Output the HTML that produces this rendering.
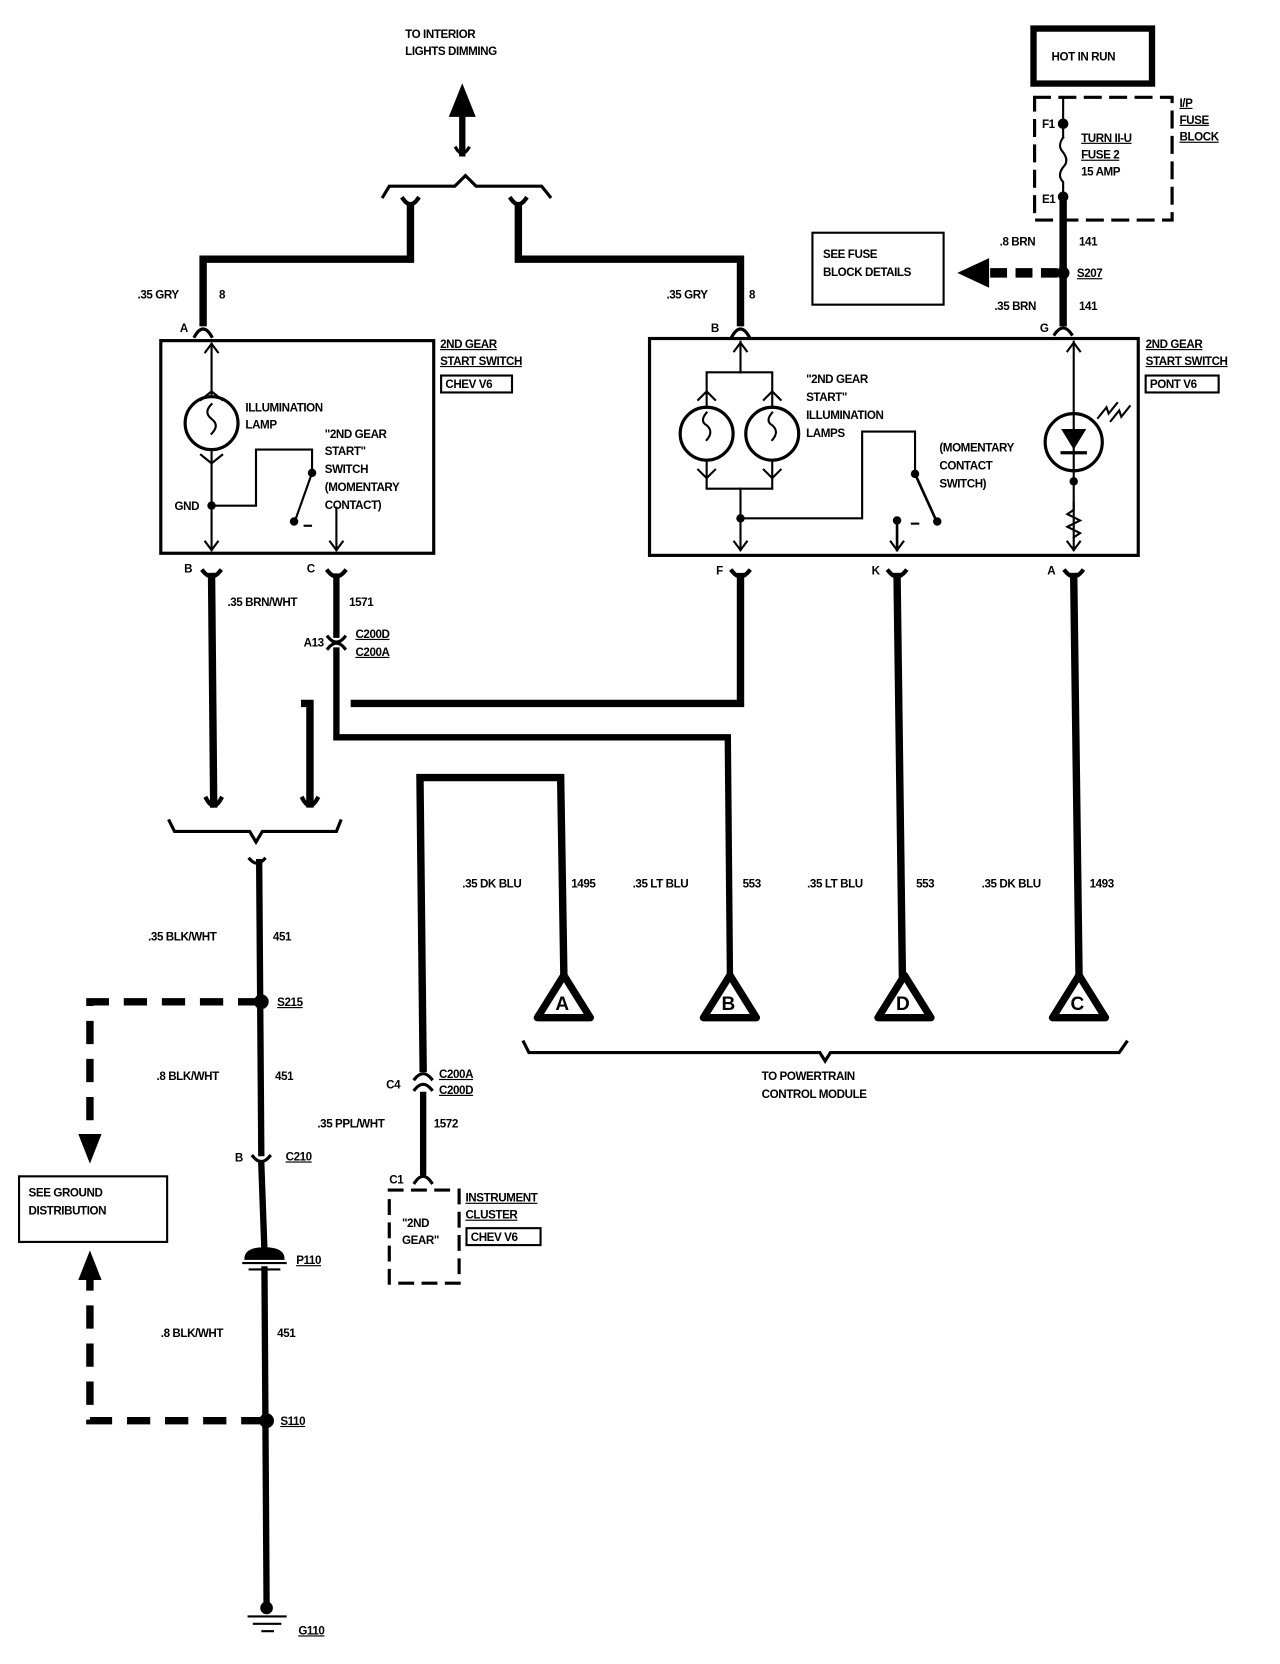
<!DOCTYPE html>
<html><head><meta charset="utf-8"><style>
html,body{margin:0;padding:0;background:#fff;}
svg{display:block;}
text{font-family:"Liberation Sans",sans-serif;font-weight:bold;font-size:11px;fill:#000;letter-spacing:-0.4px;}
</style></head><body>
<svg width="1280" height="1664" viewBox="0 0 1210 1573" preserveAspectRatio="none" xmlns="http://www.w3.org/2000/svg">
<g fill="none" stroke="#000" stroke-linecap="square">
<!-- top arrow -->
<polygon points="437,80 425,110 449,110" fill="#000"/>
<line x1="437" y1="105" x2="437" y2="145" stroke-width="6"/>
<path d="M431,140 Q437,150 443,140" stroke-width="3"/>
<!-- top bracket -->
<path d="M362,186 L368,176 L430,176 L440,166 L450,176 L512,176 L520,186" stroke-width="3"/>
<!-- top connectors -->
<path d="M381,188 Q388,198 395,188 M483,188 Q490,198 497,188" stroke-width="4"/>
<!-- gray wires -->
<polyline points="388,195 388,245 192,245 192,305" stroke-width="7"/>
<polyline points="490,195 490,245 700,245 700,305" stroke-width="7"/>
<path d="M184,318 Q192,304 200,318 M692,318 Q700,304 708,318" stroke-width="3"/>
<!-- box 1 -->
<rect x="152" y="322" width="258" height="201" stroke-width="3"/>
<line x1="200" y1="325" x2="200" y2="520" stroke-width="2"/>
<path d="M194,333 L200,325 L206,333 M194,512 L200,520 L206,512" stroke-width="2"/>
<circle cx="200" cy="400" r="25" fill="#fff" stroke-width="3"/>
<path d="M190,378 L200,370 L210,378 M190,430 L200,438 L210,430 M200,382 q-8,8 0,14 q8,6 0,14" stroke-width="2"/>
<polyline points="200,478 242,478 242,425 295,425 295,447" stroke-width="2"/>
<line x1="295" y1="447" x2="279" y2="492" stroke-width="2"/>
<line x1="318" y1="480" x2="318" y2="520" stroke-width="2"/>
<path d="M312,512 L318,520 L324,512" stroke-width="2"/>
<line x1="288" y1="497" x2="294" y2="497" stroke-width="2"/>
<!-- box 2 -->
<rect x="614" y="320" width="462" height="205" stroke-width="3"/>
<line x1="700" y1="323" x2="700" y2="352" stroke-width="2"/>
<path d="M694,332 L700,324 L706,332" stroke-width="2"/>
<polyline points="668,385 668,352 730,352 730,385" stroke-width="2"/>
<polyline points="668,436 668,462 730,462 730,436" stroke-width="2"/>
<circle cx="668" cy="410" r="25" stroke-width="3"/>
<circle cx="730" cy="410" r="25" stroke-width="3"/>
<path d="M660,378 L668,370 L676,378 M660,444 L668,452 L676,444 M722,378 L730,370 L738,378 M722,444 L730,452 L738,444 M668,390 q-7,8 0,12 q7,6 0,14 M730,390 q-7,8 0,12 q7,6 0,14" stroke-width="2"/>
<line x1="700" y1="462" x2="700" y2="520" stroke-width="2"/>
<path d="M694,512 L700,520 L706,512" stroke-width="2"/>
<polyline points="700,490 815,490 815,408 865,408 865,448" stroke-width="2"/>
<line x1="865" y1="448" x2="885" y2="492" stroke-width="2.5"/>
<line x1="848" y1="492" x2="848" y2="520" stroke-width="2.5"/>
<path d="M842,512 L848,520 L854,512" stroke-width="2"/>
<line x1="862" y1="495" x2="868" y2="495" stroke-width="2"/>
<line x1="1015" y1="323" x2="1015" y2="520" stroke-width="2"/>
<path d="M1009,332 L1015,324 L1021,332 M1009,512 L1015,520 L1021,512" stroke-width="2"/>
<circle cx="1015" cy="418" r="27" fill="#fff" stroke-width="3"/>
<polygon points="1004,406 1026,406 1015,424" fill="#000" stroke-width="1"/>
<line x1="1004" y1="428" x2="1026" y2="428" stroke-width="3"/>
<line x1="1015" y1="391" x2="1015" y2="445" stroke-width="2"/>
<polyline points="1015,475 1015,482 1009,486 1021,492 1009,498 1021,504 1015,508" stroke-width="2"/>
<path d="M1038,395 l8,-10 l2,6 l8,-10 M1050,398 l8,-10 l2,6 l8,-10" stroke-width="2"/>
<!-- bottom connectors of switches -->
<path d="M192,540 Q200,550 208,540 M310,540 Q318,550 326,540 M692,540 Q700,550 708,540 M840,540 Q848,550 856,540 M1007,540 Q1015,550 1023,540" stroke-width="4"/>
<!-- wires -->
<polyline points="200,545 202,760" stroke-width="7"/>
<path d="M195,755 Q202,768 209,755" stroke-width="4"/>
<polyline points="318,545 318,600" stroke-width="6"/>
<path d="M310,602 Q318,612 326,602 M310,613 Q318,603 326,613" stroke-width="3"/>
<polyline points="318,615 318,697 688,697 690,920" stroke-width="6"/>
<polyline points="700,545 700,665 335,665" stroke-width="7"/>
<polyline points="288,665 293,665 293,760" stroke-width="7"/>
<path d="M286,755 Q293,768 300,755" stroke-width="4"/>
<line x1="848" y1="545" x2="853" y2="920" stroke-width="7"/>
<line x1="1015" y1="545" x2="1020" y2="920" stroke-width="7"/>
<polyline points="400,1010 397,735 530,735 533,920" stroke-width="7"/>
<line x1="400" y1="1035" x2="400" y2="1108" stroke-width="6"/>
<path d="M392,1020 Q400,1010 408,1020 M392,1030 Q400,1020 408,1030 M392,1118 Q400,1106 408,1118" stroke-width="3"/>
<!-- mid bracket -->
<path d="M160,776 L165,786 L236,786 L242,796 L248,786 L318,786 L322,776" stroke-width="3"/>
<path d="M236,812 Q243,820 250,812" stroke-width="3"/>
<!-- main ground wire -->
<polyline points="245,815 247,1090" stroke-width="6"/>
<path d="M239,1093 Q247,1103 255,1093" stroke-width="3"/>
<polyline points="247,1100 250,1183" stroke-width="6"/>
<polyline points="250,1200 252,1515" stroke-width="6"/>
<path d="M232,1190 Q232,1180 250,1180 Q268,1180 268,1190 Z" fill="#000" stroke-width="2"/>
<path d="M230,1194 L270,1194 M236,1200 L264,1200" stroke-width="2"/>
<circle cx="252" cy="1520" r="6" fill="#000" stroke="none"/>
<path d="M235,1528 L270,1528 M240,1535 L265,1535 M248,1542 L258,1542" stroke-width="2"/>
<!-- dashed ground refs -->
<polyline points="247,947 85,947 85,1065" stroke-width="7" stroke-dasharray="22,14" stroke-linecap="butt"/>
<polygon points="74,1072 96,1072 85,1100" fill="#000" stroke="none"/>
<polyline points="250,1343 85,1343 85,1208" stroke-width="7" stroke-dasharray="22,14" stroke-linecap="butt"/>
<polygon points="74,1210 96,1210 85,1182" fill="#000" stroke="none"/>
<rect x="18" y="1112" width="140" height="62" stroke-width="2"/>
<!-- fuse / right top -->
<rect x="977" y="27" width="112" height="52" stroke-width="6"/>
<rect x="978" y="92" width="130" height="116" stroke-width="3" stroke-dasharray="14,10"/>
<line x1="1005" y1="92" x2="1005" y2="130" stroke-width="2"/>
<path d="M1005,130 q-6,8 0,14 q6,8 0,14 q-6,8 0,14 L1005,186" stroke-width="2"/>
<line x1="1005" y1="186" x2="1005" y2="305" stroke-width="7"/>
<path d="M997,316 Q1005,304 1013,316" stroke-width="3"/>
<line x1="1000" y1="258" x2="935" y2="258" stroke-width="9" stroke-dasharray="16,8" stroke-linecap="butt"/>
<polygon points="935,244 935,272 905,258" fill="#000" stroke="none"/>
<rect x="768" y="220" width="124" height="68" stroke-width="2"/>
<!-- triangles -->
<g stroke-width="7" stroke-linejoin="round" fill="#fff">
<polygon points="533,922 508,962 558,962"/>
<polygon points="690,922 665,962 715,962"/>
<polygon points="855,922 830,962 880,962"/>
<polygon points="1020,922 995,962 1045,962"/>
</g>
<path d="M495,985 L500,995 L775,995 L780,1003 L785,995 L1058,995 L1065,985" stroke-width="3"/>
<!-- instrument cluster -->
<rect x="368" y="1125" width="66" height="88" stroke-width="3" stroke-dasharray="12,10"/>
<rect x="417" y="355" width="67" height="16" stroke-width="2"/>
<rect x="1083" y="355" width="69" height="16" stroke-width="2"/>
<rect x="441" y="1161" width="70" height="16" stroke-width="2"/>
</g>
<g fill="#000">
<circle cx="200" cy="478" r="4"/><circle cx="295" cy="447" r="4"/><circle cx="278" cy="493" r="4"/>
<circle cx="700" cy="490" r="4"/><circle cx="865" cy="448" r="4"/><circle cx="886" cy="493" r="4"/><circle cx="848" cy="492" r="4"/>
<circle cx="1015" cy="455" r="4"/>
<circle cx="1005" cy="117" r="5"/><circle cx="1005" cy="186" r="5"/><circle cx="1005" cy="258" r="6"/>
<circle cx="247" cy="947" r="7"/><circle cx="252" cy="1343" r="7"/>
</g>
<text x="383" y="36">TO INTERIOR</text><text x="383" y="52">LIGHTS DIMMING</text>
<text x="994" y="57">HOT IN RUN</text>
<text x="1115" y="101" text-decoration="underline">I/P</text><text x="1115" y="117" text-decoration="underline">FUSE</text><text x="1115" y="133" text-decoration="underline">BLOCK</text>
<text x="985" y="121">F1</text><text x="985" y="192">E1</text>
<text x="1022" y="134" text-decoration="underline">TURN II-U</text><text x="1022" y="150" text-decoration="underline">FUSE 2</text><text x="1022" y="166">15 AMP</text>
<text x="945" y="232">.8 BRN</text><text x="1020" y="232">141</text>
<text x="1018" y="262" text-decoration="underline">S207</text>
<text x="778" y="244">SEE FUSE</text><text x="778" y="261">BLOCK DETAILS</text>
<text x="940" y="293">.35 BRN</text><text x="1020" y="293">141</text>
<text x="983" y="314">G</text>
<text x="130" y="282">.35 GRY</text><text x="207" y="282">8</text>
<text x="630" y="282">.35 GRY</text><text x="708" y="282">8</text>
<text x="170" y="314">A</text><text x="672" y="314">B</text>
<text x="416" y="329" text-decoration="underline">2ND GEAR</text><text x="416" y="345" text-decoration="underline">START SWITCH</text><text x="421" y="367">CHEV V6</text>
<text x="1083" y="329" text-decoration="underline">2ND GEAR</text><text x="1083" y="345" text-decoration="underline">START SWITCH</text><text x="1087" y="367">PONT V6</text>
<text x="232" y="389">ILLUMINATION</text><text x="232" y="405">LAMP</text>
<text x="307" y="414">"2ND GEAR</text><text x="307" y="430">START"</text><text x="307" y="447">SWITCH</text><text x="307" y="464">(MOMENTARY</text><text x="307" y="481">CONTACT)</text>
<text x="165" y="482">GND</text>
<text x="762" y="362">"2ND GEAR</text><text x="762" y="379">START"</text><text x="762" y="396">ILLUMINATION</text><text x="762" y="413">LAMPS</text>
<text x="888" y="427">(MOMENTARY</text><text x="888" y="444">CONTACT</text><text x="888" y="461">SWITCH)</text>
<text x="174" y="541">B</text><text x="290" y="541">C</text><text x="677" y="543">F</text><text x="824" y="543">K</text><text x="990" y="543">A</text>
<text x="215" y="573">.35 BRN/WHT</text><text x="330" y="573">1571</text>
<text x="287" y="611">A13</text><text x="336" y="603" text-decoration="underline">C200D</text><text x="336" y="620" text-decoration="underline">C200A</text>
<text x="140" y="889">.35 BLK/WHT</text><text x="258" y="889">451</text>
<text x="262" y="951" text-decoration="underline">S215</text>
<text x="148" y="1021">.8 BLK/WHT</text><text x="260" y="1021">451</text>
<text x="222" y="1098">B</text><text x="270" y="1097" text-decoration="underline">C210</text>
<text x="27" y="1131">SEE GROUND</text><text x="27" y="1148">DISTRIBUTION</text>
<text x="280" y="1195" text-decoration="underline">P110</text>
<text x="152" y="1264">.8 BLK/WHT</text><text x="262" y="1264">451</text>
<text x="265" y="1347" text-decoration="underline">S110</text>
<text x="282" y="1545" text-decoration="underline">G110</text>
<text x="437" y="839">.35 DK BLU</text><text x="540" y="839">1495</text>
<text x="598" y="839">.35 LT BLU</text><text x="702" y="839">553</text>
<text x="763" y="839">.35 LT BLU</text><text x="866" y="839">553</text>
<text x="928" y="839">.35 DK BLU</text><text x="1030" y="839">1493</text>
<text x="525" y="955" style="font-size:18px">A</text><text x="682" y="955" style="font-size:18px">B</text><text x="847" y="955" style="font-size:18px">D</text><text x="1012" y="955" style="font-size:18px">C</text>
<text x="720" y="1021">TO POWERTRAIN</text><text x="720" y="1038">CONTROL MODULE</text>
<text x="365" y="1029">C4</text><text x="415" y="1019" text-decoration="underline">C200A</text><text x="415" y="1034" text-decoration="underline">C200D</text>
<text x="300" y="1066">.35 PPL/WHT</text><text x="410" y="1066">1572</text>
<text x="368" y="1119">C1</text>
<text x="440" y="1136" text-decoration="underline">INSTRUMENT</text><text x="440" y="1152" text-decoration="underline">CLUSTER</text><text x="445" y="1173">CHEV V6</text>
<text x="380" y="1160">"2ND</text><text x="380" y="1176">GEAR"</text>
</svg>
</body></html>
